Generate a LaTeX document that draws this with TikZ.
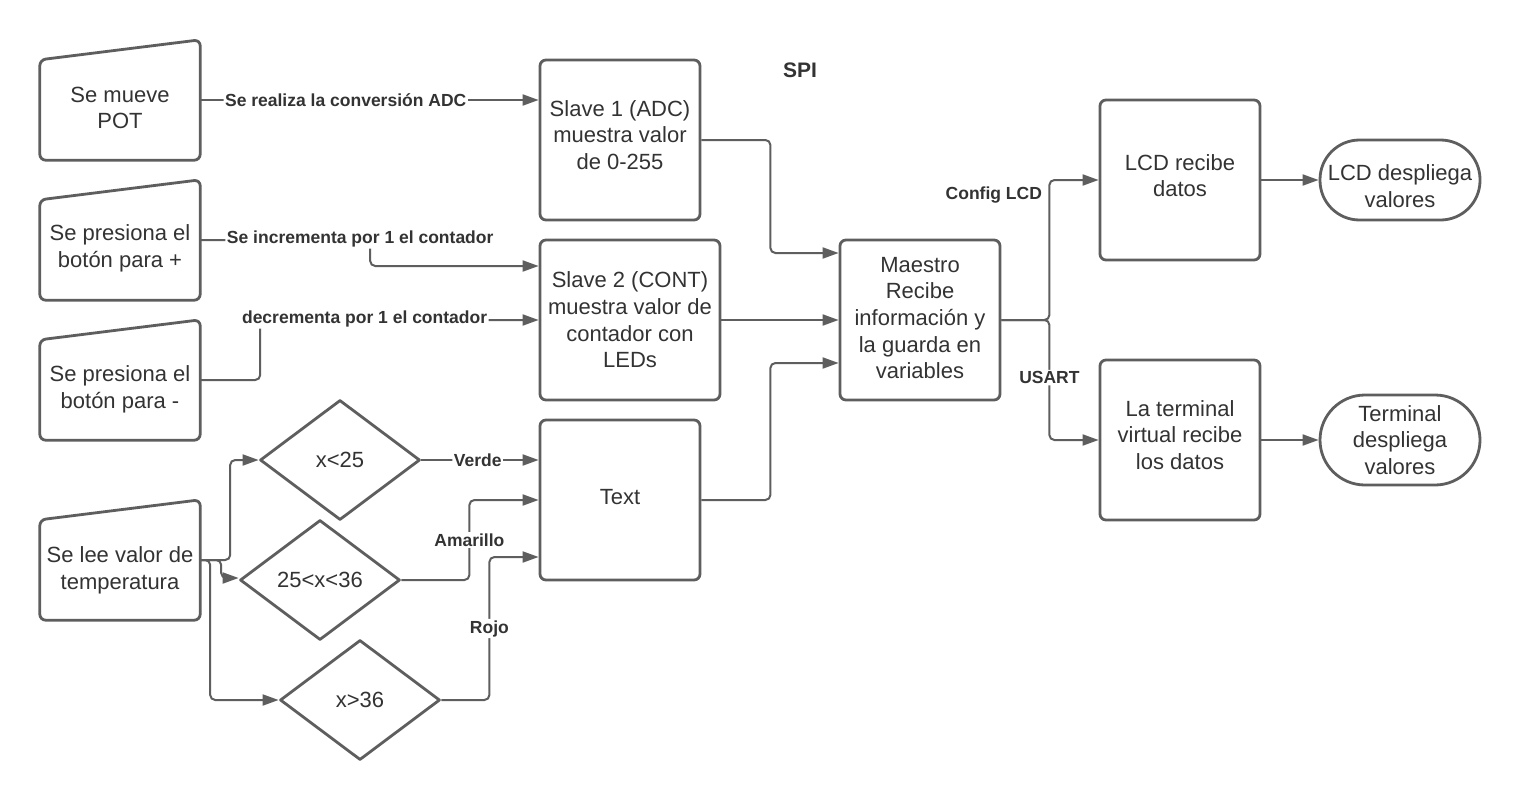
\documentclass[tikz,border=0pt]{standalone}
\usepackage{fontspec}
\setmainfont{Liberation Sans}
\usetikzlibrary{arrows.meta,shapes.geometric,shapes.misc,calc}
\definecolor{ln}{HTML}{5E5E5E}
\definecolor{tc}{HTML}{333333}
\newcommand\lowstrut[1]{\rule[-#1]{0pt}{#1}}
\tikzset{
  nfont/.style={font=\fontsize{22}{26.7}\selectfont},
  box/.style={draw=ln, line width=2.8pt, rounded corners=6pt, minimum width=160pt,
    minimum height=160pt, inner sep=0pt, align=center, text=tc, nfont},
  minp/.style={minimum width=160pt, minimum height=120pt, inner sep=0pt},
  shp/.style={draw=ln, line width=2.8pt, rounded corners=6pt, line join=round},
  mtxt/.style={align=center, text=tc, inner sep=0pt, nfont},
  dia/.style={diamond, draw=ln, line width=2.8pt, line join=round, minimum width=160pt,
    minimum height=120pt, inner sep=0pt, text=tc, nfont},
  stad/.style={rounded rectangle, draw=ln, line width=2.8pt, minimum width=160pt,
    inner sep=0pt, align=center, text=tc, nfont},
  stadbox/.style={rectangle, rounded corners=39.5pt, draw=ln, line width=2.8pt, minimum width=160pt,
    minimum height=80pt, inner sep=0pt, align=center, text=tc, nfont},
  conn/.style={draw=ln, line width=2pt, rounded corners=5pt, -{Triangle[length=16pt,width=11pt]}},
  lbl/.style={font=\bfseries\fontsize{17.5}{20}\selectfont, text=tc, fill=white, inner sep=1.5pt},
}
\begin{document}
\begin{tikzpicture}[x=1pt,y=-1pt]
\useasboundingbox[fill=white] (0,0) rectangle (1520,800);

% manual inputs
\node[minp] (pot) at (120,100) {};
\node[minp] (bp) at (120,240) {};
\node[minp] (bm) at (120,380) {};
\node[minp] (tp) at (120,560) {};
\foreach \n in {pot,bp,bm,tp}
  \draw[shp] (\n.south west) -- ([yshift=-20pt]\n.north west) -- (\n.north east) -- (\n.south east) -- cycle;
\node[mtxt] (pott) at (120,108) {Se mueve\\POT};
\node[mtxt] (bpt) at (120,248) {Se presiona el\\botón para +};
\node[mtxt] (bmt) at (120,389) {Se presiona el\\botón para -};
\node[mtxt] (tpt) at (120,570) {Se lee valor de\\temperatura};

% boxes
\node[box] (s1) at (620,140) {Slave 1 (ADC)\\muestra valor\\de 0-255\lowstrut{10pt}};
\node[box, minimum width=180pt] (s2) at (630,320) {Slave 2 (CONT)\\muestra valor de\\contador con\\LEDs};
\node[box] (tx) at (620,500) {Text\lowstrut{6pt}};
\node[box] (m) at (920,320) {Maestro\\Recibe\\información y\\la guarda en\\variables\lowstrut{4pt}};
\node[box] (lr) at (1180,180) {LCD recibe\\datos\lowstrut{9pt}};
\node[box] (tr) at (1180,440) {La terminal\\virtual recibe\\los datos\lowstrut{10pt}};
\node[stadbox] (ld) at (1400,180) {\rule{0pt}{28pt}LCD despliega\\valores};
\node[stad, minimum height=90pt] (td) at (1400,440) {Terminal\\despliega\\valores};

% decisions
\node[dia] (d1) at (340,460) {x<25};
\node[dia] (d2) at (320,580) {25<x<36};
\node[dia] (d3) at (360,700) {x>36};

\node[font=\bfseries\fontsize{21}{24}\selectfont, text=tc] (spi) at (800,70) {SPI};

% connectors
\draw[conn] (pot.east) -- node[lbl, pos=0.43]{Se realiza la conversión ADC} (pot.east -| s1.west);
\draw[conn] (bp.east) -- ++(170,0) node[lbl, xshift=-10pt, yshift=1pt]{Se incrementa por 1 el contador} |- ([yshift=54pt]s2.west);
\draw[conn] (bm.east) -- ++(60,0) -- ++(0,-60) -- node[lbl, pos=0.375, yshift=1pt]{decrementa por 1 el contador} (s2.west);

\draw[conn] (tp.east) -- ++(30,0) |- (d1.west);
\draw[conn] (tp.east) -- ++(21,0) |- ([yshift=2pt]d2.west);
\draw[conn] (tp.east) -- ++(10,0) |- (d3.west);

\draw[conn] (d1.east) -- node[lbl, pos=0.48]{Verde} (d1.east -| tx.west);
\draw[conn] (d2.east) -- ++(68,0) |- node[lbl, pos=0.25]{Amarillo} (tx.west);
\draw[conn] (d3.east) -- ++(48,0) |- node[lbl, pos=0.25]{Rojo} ([yshift=-57pt]tx.west);

\draw[conn] (s1.east) -- ++(69,0) |- ([yshift=67pt]m.west);
\draw[conn] (s2.east) -- (m.west);
\draw[conn] (tx.east) -- ++(69,0) |- ([yshift=-43pt]m.west);

\draw[conn] (m.east) -- ++(48,0) |- node[lbl, pos=0.446, anchor=east, xshift=-5pt]{Config LCD} (lr.west);
\draw[conn] (m.east) -- ++(48,0) |- node[lbl, pos=0.24]{USART} (tr.west);

\draw[conn] (lr.east) -- (ld.west);
\draw[conn] (tr.east) -- (td.west);
\end{tikzpicture}
\end{document}
